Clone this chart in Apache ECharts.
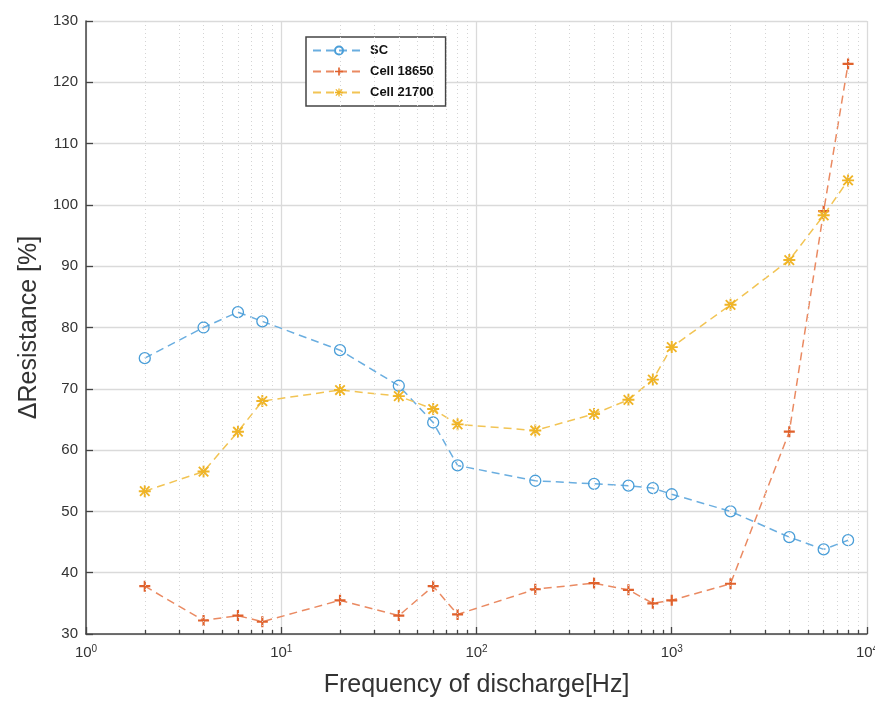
<!DOCTYPE html>
<html>
<head>
<meta charset="utf-8">
<script src="https://cdn.jsdelivr.net/npm/echarts@6/dist/echarts.min.js"></script>
<style>html,body{margin:0;padding:0;background:#fff}#main{width:875px;height:702px}</style>
</head>
<body>
<div id="main"></div>
<script>
// frequencies (Hz) and resistance change (%)
var freq = [2, 4, 6, 8, 20, 40, 60, 80, 200, 400, 600, 800, 1000, 2000, 4000, 6000, 8000];
var sc = [75, 80, 82.5, 81, 76.3, 70.5, 64.5, 57.5, 55, 54.5, 54.2, 53.8, 52.8, 50, 45.8, 43.8, 45.3];
var cell18650 = [37.8, 32.2, 33, 32, 35.5, 33, 37.8, 33.2, 37.3, 38.3, 37.2, 35, 35.5, 38.2, 63, 99, 123];
var cell21700 = [53.3, 56.5, 63, 68, 69.8, 68.8, 66.7, 64.2, 63.2, 65.9, 68.2, 71.5, 76.8, 83.7, 91, 98.3, 104];
var names = ['SC', 'Cell 18650', 'Cell 21700'];

function pairs(ys) {
    var out = [];
    for (var i = 0; i < freq.length; i++) out.push([freq[i], ys[i]]);
    return out;
}

// minor grid positions of the log axis: 2..9 in each decade
var minor = [];
for (var d = 1; d < 10000; d *= 10) {
    for (var k = 2; k <= 9; k++) minor.push(k * d);
}

var plusPath = 'path://M4,0H6V4H10V6H6V10H4V6H0V4H4Z';
var starPath = 'path://M4.2,0H5.8V4.2H10V5.8H5.8V10H4.2V5.8H0V4.2H4.2Z' +
    'M1.6,0.5L9.5,8.4L8.4,9.5L0.5,1.6Z M8.4,0.5L9.5,1.6L1.6,9.5L0.5,8.4Z' +
    'M5,2.3L7.7,5L5,7.7L2.3,5Z';

var myChart = echarts.init(document.getElementById('main'));

var option = {
    animation: false,
    backgroundColor: '#fff',
    textStyle: {fontFamily: 'Liberation Sans, Arial, sans-serif'},
    grid: {left: 86, right: 8, top: 21, bottom: 68, outerBoundsMode: 'none', containLabel: false},
    legend: {
        left: 306, top: 37,
        orient: 'vertical',
        backgroundColor: '#fff',
        borderColor: '#444',
        borderWidth: 1.5,
        borderRadius: 0,
        padding: [7, 12, 7, 6],
        itemGap: 8,
        itemWidth: 52,
        itemHeight: 10,
        data: names,
        textStyle: {fontSize: 13, color: '#111', fontWeight: 'bold'}
    },
    xAxis: {
        type: 'log',
        logBase: 10,
        min: 1,
        max: 10000,
        name: 'Frequency of discharge[Hz]',
        nameLocation: 'middle',
        nameGap: 39,
        nameTextStyle: {fontSize: 25, color: '#333'},
        axisLine: {onZero: false, lineStyle: {color: '#444', width: 1.5}},
        axisTick: {inside: true, length: 7, lineStyle: {color: '#444', width: 1.3}},
        axisLabel: {
            margin: 10,
            color: '#333',
            formatter: function (v) {
                var e = Math.round(Math.log10(v));
                return '{b|10}{s|' + e + '}';
            },
            rich: {
                b: {fontSize: 15, color: '#333'},
                s: {fontSize: 10, color: '#333', verticalAlign: 'top', padding: [0, 0, 7, 0]}
            }
        },
        splitLine: {show: true, lineStyle: {color: '#dadada', width: 1.3}}
    },
    yAxis: {
        type: 'value',
        min: 30,
        max: 130,
        interval: 10,
        name: 'ΔResistance [%]',
        nameLocation: 'middle',
        nameGap: 40,
        nameTextStyle: {fontSize: 25, color: '#333'},
        axisLine: {show: true, lineStyle: {color: '#444', width: 1.5}},
        axisTick: {show: true, inside: true, length: 7, lineStyle: {color: '#444', width: 1.3}},
        axisLabel: {fontSize: 15, color: '#333', margin: 8},
        splitLine: {show: true, lineStyle: {color: '#dadada', width: 1.3}}
    },
    series: [
        {
            name: 'grid-minor',
            type: 'line',
            data: [],
            silent: true,
            markLine: {
                silent: true,
                symbol: 'none',
                label: {show: false},
                lineStyle: {color: '#d4d4d4', type: [1, 3], width: 1},
                data: minor.map(function (v) { return {xAxis: v}; })
            }
        },
        {
            name: 'tick-minor',
            type: 'line',
            data: [],
            silent: true,
            markLine: {
                silent: true,
                symbol: 'none',
                label: {show: false},
                lineStyle: {color: '#444', type: 'solid', width: 1.3},
                data: minor.map(function (v) { return [{coord: [v, 30]}, {coord: [v, 30.65]}]; })
            }
        },
        {
            name: names[0],
            type: 'line',
            data: pairs(sc),
            symbol: 'circle',
            symbolSize: 11,
            color: '#4a9ed8',
            lineStyle: {color: '#6aaee0', type: [8, 5], width: 1.5},
            itemStyle: {color: 'rgba(255,255,255,0)', borderColor: '#4a9ed8', borderWidth: 1.3}
        },
        {
            name: names[1],
            type: 'line',
            data: pairs(cell18650),
            symbol: plusPath,
            symbolSize: 11,
            color: '#e0612c',
            lineStyle: {color: '#ea8a62', type: [8, 5], width: 1.5},
            itemStyle: {color: '#e0612c'}
        },
        {
            name: names[2],
            type: 'line',
            data: pairs(cell21700),
            symbol: starPath,
            symbolSize: 12,
            color: '#efb427',
            lineStyle: {color: '#f2c454', type: [8, 5], width: 1.5},
            itemStyle: {color: '#efb427'}
        }
    ]
};

myChart.setOption(option);
</script>
</body>
</html>
